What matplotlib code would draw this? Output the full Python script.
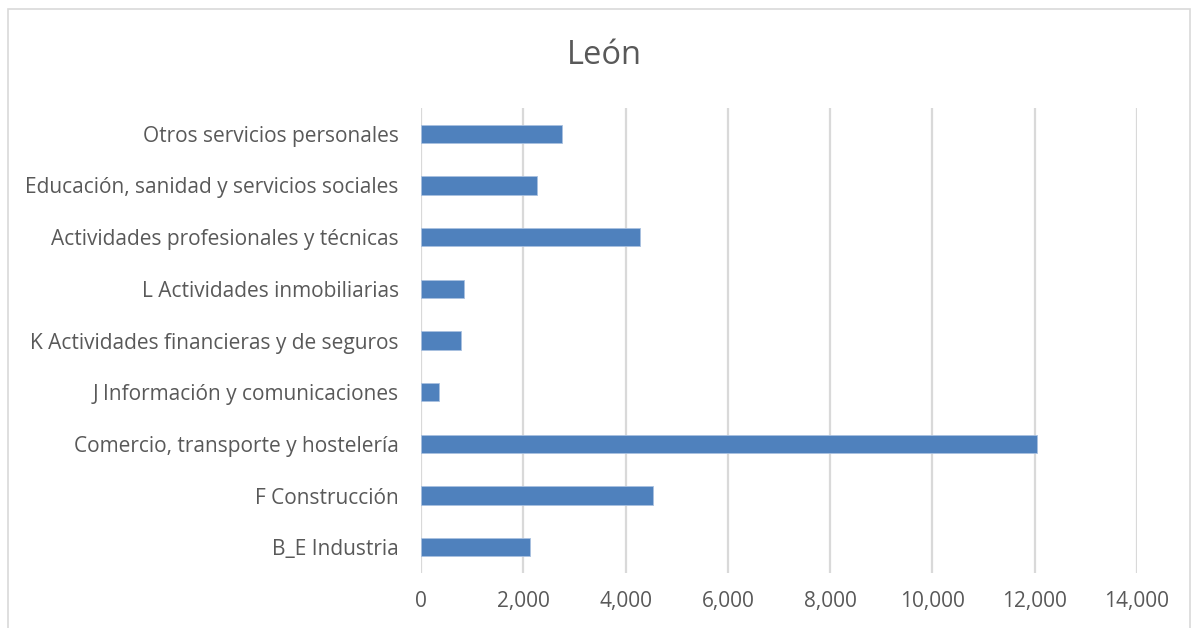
import matplotlib.pyplot as plt
from matplotlib.patches import Rectangle

categories = [
    "B_E Industria",
    "F Construcción",
    "Comercio, transporte y hostelería",
    "J Información y comunicaciones",
    "K Actividades financieras y de seguros",
    "L Actividades inmobiliarias",
    "Actividades profesionales y técnicas",
    "Educación, sanidad y servicios sociales",
    "Otros servicios personales",
]
values = [2137, 4542, 12043, 346, 776, 847, 4282, 2262, 2763]
xticks = [0, 2000, 4000, 6000, 8000, 10000, 12000, 14000]

plt.rcParams['font.family'] = ['Open Sans', 'DejaVu Sans']
text_color = '#595959'

fig = plt.figure(figsize=(11.97, 6.28), dpi=100)
ax = fig.add_axes([421 / 1197, 1 - 573 / 628, (1137 - 421) / 1197, (573 - 108) / 628])

ax.barh(range(len(categories)), values, height=0.35, color='#4f81bd',
        edgecolor='#a9c1e0', linewidth=0.6, zorder=3)
ax.set_ylim(-0.5, len(categories) - 0.5)
ax.set_xlim(0, 14000)
ax.set_xticks(xticks)
ax.set_xticklabels([f"{v:,}" for v in xticks])
ax.set_yticks(range(len(categories)))
ax.set_yticklabels(categories)
ax.tick_params(axis='both', length=0, labelsize=15, labelcolor=text_color)
ax.tick_params(axis='x', pad=13)
ax.tick_params(axis='y', pad=16)
ax.grid(axis='x', color='#d9d9d9', linewidth=1.6, zorder=0)
for s in ax.spines.values():
    s.set_visible(False)

fig.text(604 / 1197, 1 - 56 / 628, "León", ha='center', va='center',
         fontsize=23.5, color=text_color)

# light border round the chart area
fig.patches.append(Rectangle((8 / 1197, -0.05), (1190 - 8) / 1197, 1.05 - 9 / 628,
                             transform=fig.transFigure, fill=False,
                             edgecolor='#d9d9d9', linewidth=1.2))

fig.savefig("out.png", dpi=100)
